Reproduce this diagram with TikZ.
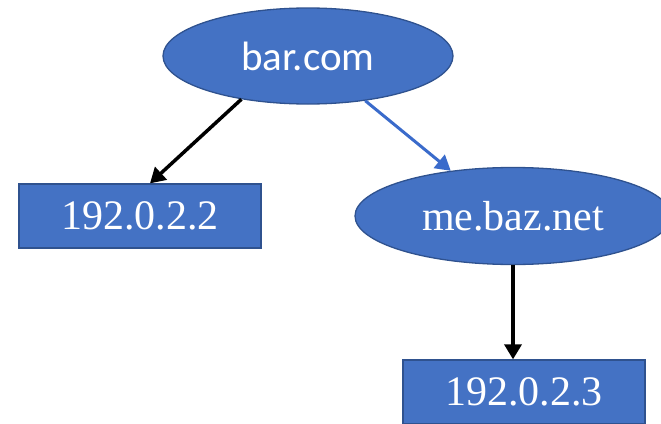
\documentclass[tikz,border=0pt]{standalone}
\usepackage{fontspec}
\setmainfont{Liberation Serif}
\newfontfamily\calfont{Carlito}
\usetikzlibrary{shapes.geometric}
\usetikzlibrary{arrows.meta}

\definecolor{boxblue}{HTML}{4472C4}
\definecolor{edgeblue}{HTML}{2F528F}
\definecolor{linkblue}{HTML}{3A6BCB}

\begin{document}
\begin{tikzpicture}[x=1pt,y=-1pt,
  host/.style={ellipse,draw=edgeblue,fill=boxblue,line width=1.3pt,inner sep=0pt,text=white},
  addr/.style={rectangle,draw=edgeblue,fill=boxblue,line width=1.3pt,inner sep=0pt,text=white,
    minimum width=242pt,minimum height=64pt,font=\fontsize{42}{46}\selectfont},
  link/.style={line width=3.5pt,-{Triangle[length=15pt,width=17pt]}}]
 \useasboundingbox (0,0) rectangle (661,423);
 \clip (0,0) rectangle (661,423);
 \node[host,minimum width=290pt,minimum height=96pt,font=\calfont\fontsize{41}{45}\selectfont] (bar) at (308,56) {bar.com};
 \node[addr] (ipa) at (140,216) {192.0.2.2};
 \node[host,minimum width=316pt,minimum height=97pt,font=\fontsize{42}{46}\selectfont] (baz) at (513,216) {me.baz.net};
 \node[addr] (ipb) at (524,392) {192.0.2.3};
 \draw[link,black] (bar.213) -- ([xshift=10pt]ipa.north);
 \draw[link,linkblue,line width=3pt] (bar.-38) -- (baz.144);
 \draw[link,black] (baz.south) -- (baz.south |- ipb.north);
\end{tikzpicture}
\end{document}
